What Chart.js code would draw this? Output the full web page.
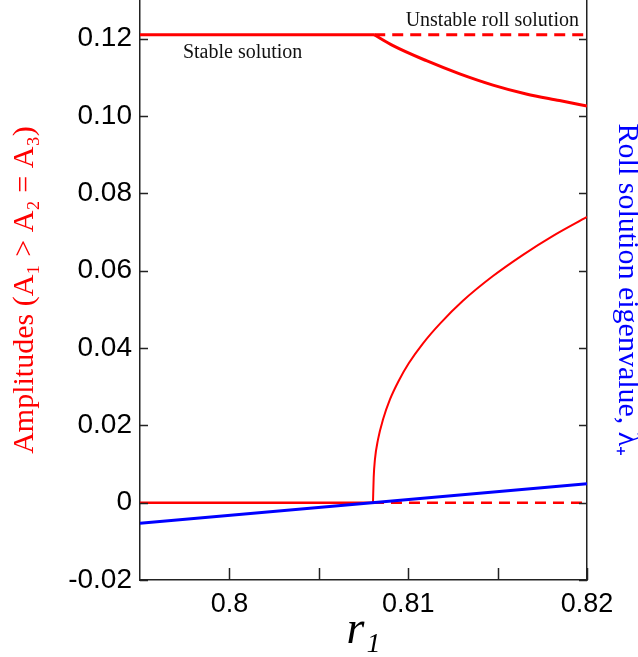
<!DOCTYPE html>
<html>
<head>
<meta charset="utf-8">
<script src="https://cdn.jsdelivr.net/npm/chart.js@4/dist/chart.umd.min.js"></script>
<style>
    html, body { margin: 0; padding: 0; background: #fff; }
    #wrap { width: 638px; height: 657px; }
</style>
</head>
<body>
<div id="wrap"><canvas id="chart" width="638" height="657"></canvas></div>
<script>
// Данные
const xTicks = [0.8, 0.805, 0.81, 0.815, 0.82];
const xTickLabels = ['0.8', '', '0.81', '', '0.82'];
const yTicks = [-0.02, 0, 0.02, 0.04, 0.06, 0.08, 0.10, 0.12];
const yTickLabels = ['-0.02', '0', '0.02', '0.04', '0.06', '0.08', '0.10', '0.12'];

// верхнее устойчивое решение: плато
const stableFlatR = [0.795, 0.8081];
const stableFlatA = [0.121, 0.121];

// верхняя ветка после бифуркации (спад)
const upperBranchR = [0.8081, 0.80915, 0.81102, 0.81288, 0.81474, 0.8166, 0.81846, 0.82];
const upperBranchA = [0.1210, 0.1182, 0.1143, 0.1109, 0.1080, 0.1057, 0.1040, 0.1026];

// неустойчивое роллов решение (пунктир сверху)
const unstableUpperR = [0.8081, 0.82];
const unstableUpperA = [0.121, 0.121];

// нулевое решение
const zeroStableR = [0.795, 0.80803];
const zeroStableA = [0, 0];
const zeroUnstableR = [0.80803, 0.82];
const zeroUnstableA = [0, 0];

// нижняя ветка (корневая)
const lowerBranchR = [0.80803, 0.80807, 0.80814, 0.80831, 0.80859, 0.80898, 0.80948, 0.81004, 0.81083, 0.81178, 0.81306, 0.81474, 0.81642, 0.8181, 0.82];
const lowerBranchA = [0, 0.0065, 0.0112, 0.0163, 0.0215, 0.0267, 0.0316, 0.0361, 0.0412, 0.0463, 0.0522, 0.0586, 0.0641, 0.0690, 0.0739];

// собственное значение λ+
const eigenR = [0.795, 0.82];
const eigenL = [-0.0053, 0.0049];

// подписи на графике
const notes = [
    { text: 'Stable solution', x: 0.7974, y: 0.1151, align: 'left' },
    { text: 'Unstable roll solution', x: 0.81955, y: 0.1234, align: 'right' }
];

const RED = '#ff0000';
const BLUE = '#0000ff';
const AXIS = '#222222';

function pts(xs, ys) {
    return xs.map((x, i) => ({ x: x, y: ys[i] }));
}

// Внутренние засечки осей
const inwardTicks = {
    id: 'inwardTicks',
    afterDraw(chart) {
        const ctx = chart.ctx;
        const area = chart.chartArea;
        const xs = chart.scales.x;
        const ys = chart.scales.y;
        ctx.save();
        ctx.strokeStyle = AXIS;
        ctx.lineWidth = 1.5;
        ctx.beginPath();
        xTicks.forEach(v => {
            const px = Math.round(xs.getPixelForValue(v)) + 0.5;
            ctx.moveTo(px, area.bottom);
            ctx.lineTo(px, area.bottom - 12);
        });
        yTicks.forEach(v => {
            const py = Math.round(ys.getPixelForValue(v)) + 0.5;
            ctx.moveTo(area.left, py);
            ctx.lineTo(area.left + 8, py);
            ctx.moveTo(area.right, py);
            ctx.lineTo(area.right - 8, py);
        });
        ctx.stroke();
        ctx.restore();
    }
};

// Текстовые подписи
const noteLabels = {
    id: 'noteLabels',
    afterDatasetsDraw(chart) {
        const ctx = chart.ctx;
        ctx.save();
        ctx.fillStyle = '#111';
        ctx.font = '20px "Liberation Serif", serif';
        ctx.textBaseline = 'alphabetic';
        notes.forEach(n => {
            ctx.textAlign = n.align;
            ctx.fillText(n.text, chart.scales.x.getPixelForValue(n.x), chart.scales.y.getPixelForValue(n.y));
        });
        ctx.restore();
    }
};

const lineDefaults = { showLine: true, pointRadius: 0, fill: false, borderCapStyle: 'butt' };

const chart = new Chart(document.getElementById('chart').getContext('2d'), {
    type: 'scatter',
    data: {
        datasets: [
            Object.assign({ label: 'λ+', data: pts(eigenR, eigenL), borderColor: BLUE, borderWidth: 3, yAxisID: 'y2' }, lineDefaults),
            Object.assign({ label: 'stable flat', data: pts(stableFlatR, stableFlatA), borderColor: RED, borderWidth: 3 }, lineDefaults),
            Object.assign({ label: 'upper branch', data: pts(upperBranchR, upperBranchA), borderColor: RED, borderWidth: 3, cubicInterpolationMode: 'monotone' }, lineDefaults),
            Object.assign({ label: 'unstable roll', data: pts(unstableUpperR, unstableUpperA), borderColor: RED, borderWidth: 3, borderDash: [11, 7] }, lineDefaults),
            Object.assign({ label: 'zero stable', data: pts(zeroStableR, zeroStableA), borderColor: RED, borderWidth: 2.5 }, lineDefaults),
            Object.assign({ label: 'zero unstable', data: pts(zeroUnstableR, zeroUnstableA), borderColor: RED, borderWidth: 2.5, borderDash: [11, 7] }, lineDefaults),
            Object.assign({ label: 'lower branch', data: pts(lowerBranchR, lowerBranchA), borderColor: RED, borderWidth: 2, cubicInterpolationMode: 'monotone' }, lineDefaults)
        ]
    },
    options: {
        responsive: false,
        animation: false,
        layout: { padding: 0 },
        plugins: {
            legend: { display: false },
            tooltip: { enabled: false }
        },
        scales: {
            x: {
                type: 'linear',
                min: 0.795,
                max: 0.82,
                afterBuildTicks: s => { s.ticks = xTicks.map(v => ({ value: v })); },
                afterFit: s => { s.height = 77; s.paddingLeft = 0; s.paddingRight = 0; },
                ticks: {
                    autoSkip: false,
                    maxRotation: 0,
                    padding: 8,
                    color: '#000',
                    font: { family: '"Liberation Sans", Arial, sans-serif', size: 27 },
                    callback: v => {
                        const i = xTicks.findIndex(t => Math.abs(t - v) < 1e-9);
                        return i >= 0 ? xTickLabels[i] : '';
                    }
                },
                grid: { drawOnChartArea: false, drawTicks: false, tickLength: 0 },
                border: { display: true, color: AXIS, width: 1.5 },
                title: {
                    display: true,
                    text: 'r₁',
                    color: '#000',
                    font: { family: '"Liberation Serif", serif', style: 'italic', size: 46, lineHeight: 1 },
                    padding: { top: 0, bottom: 3 }
                }
            },
            y: {
                type: 'linear',
                position: 'left',
                min: -0.02,
                max: 0.13,
                afterBuildTicks: s => { s.ticks = yTicks.map(v => ({ value: v })); },
                afterFit: s => { s.width = 140; s.paddingTop = 0; s.paddingBottom = 0; },
                ticks: {
                    autoSkip: false,
                    padding: 8,
                    color: '#000',
                    font: { family: '"Liberation Sans", Arial, sans-serif', size: 28 },
                    callback: v => {
                        const i = yTicks.findIndex(t => Math.abs(t - v) < 1e-9);
                        return i >= 0 ? yTickLabels[i] : '';
                    }
                },
                grid: { drawOnChartArea: false, drawTicks: false, tickLength: 0 },
                border: { display: true, color: AXIS, width: 1.5 },
                title: {
                    display: true,
                    text: 'Amplitudes (A₁ > A₂ = A₃)',
                    color: RED,
                    font: { family: '"Liberation Serif", serif', size: 30, lineHeight: 1 },
                    padding: { top: 10, bottom: 0 }
                }
            },
            y2: {
                type: 'linear',
                position: 'right',
                min: -0.02,
                max: 0.13,
                afterBuildTicks: s => { s.ticks = yTicks.map(v => ({ value: v })); },
                afterFit: s => { s.width = 51; s.paddingTop = 0; s.paddingBottom = 0; },
                ticks: { display: false },
                grid: { drawOnChartArea: false, drawTicks: false, tickLength: 0 },
                border: { display: true, color: AXIS, width: 1.5 },
                title: {
                    display: true,
                    text: 'Roll solution eigenvalue, λ₊',
                    color: BLUE,
                    font: { family: '"Liberation Serif", serif', size: 30, lineHeight: 1 },
                    padding: { top: -4, bottom: 0 }
                }
            }
        }
    },
    plugins: [inwardTicks, noteLabels]
});
</script>
</body>
</html>
